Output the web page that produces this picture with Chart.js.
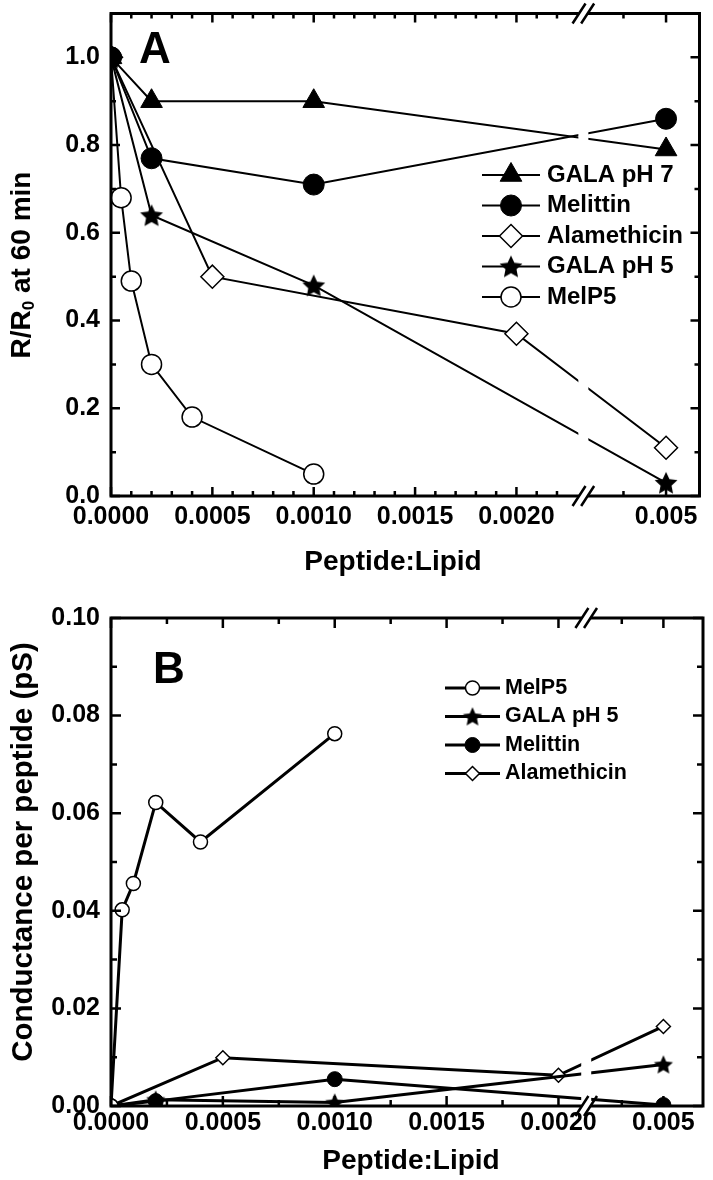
<!DOCTYPE html>
<html>
<head>
<meta charset="utf-8">
<script src="https://cdn.jsdelivr.net/npm/chart.js@4.4.1/dist/chart.umd.min.js"></script>
<style>
  html, body { margin: 0; padding: 0; background: #fff; }
  #wrap { position: relative; width: 713px; height: 1180px; }
  canvas { position: absolute; left: 0; }
</style>
</head>
<body>
<div id="wrap">
  <canvas id="chartA" width="713" height="590" style="top:0"></canvas>
  <canvas id="chartB" width="713" height="590" style="top:590px"></canvas>
</div>
<script>
// Panel A : R/R0 at 60 min
const seriesA = ['GALA pH 7', 'Melittin', 'Alamethicin', 'GALA pH 5', 'MelP5'];
const xGala7A = [0, 0.0002, 0.001, 0.005];
const yGala7A = [1.0, 0.90, 0.90, 0.79];
const xMelA = [0, 0.0002, 0.001, 0.005];
const yMelA = [1.0, 0.77, 0.71, 0.86];
const xAlaA = [0, 0.0005, 0.002, 0.005];
const yAlaA = [1.0, 0.50, 0.37, 0.11];
const xGala5A = [0, 0.0002, 0.001, 0.005];
const yGala5A = [1.0, 0.64, 0.48, 0.03];
const xMelP5A = [0, 0.00005, 0.0001, 0.0002, 0.0004, 0.001];
const yMelP5A = [1.0, 0.68, 0.49, 0.30, 0.18, 0.05];

// Panel B : conductance per peptide (pS)
const seriesB = ['MelP5', 'GALA pH 5', 'Melittin', 'Alamethicin'];
const xMelP5B = [0, 0.00005, 0.0001, 0.0002, 0.0004, 0.001];
const yMelP5B = [0, 0.0402, 0.0456, 0.0622, 0.0541, 0.0763];
const xGala5B = [0, 0.0002, 0.001, 0.005];
const yGala5B = [0, 0.0013, 0.0007, 0.0085];
const xMelB = [0, 0.0002, 0.001, 0.005];
const yMelB = [0, 0.0010, 0.0055, 0.0002];
const xAlaB = [0, 0.0005, 0.002, 0.005];
const yAlaB = [0, 0.0099, 0.0063, 0.0163];

// Tick values and labels
const xTicks = [0, 0.0005, 0.001, 0.0015, 0.002, 0.005];
const xLabels = ['0.0000', '0.0005', '0.0010', '0.0015', '0.0020', '0.005'];
const yTicksA = [0, 0.2, 0.4, 0.6, 0.8, 1.0];
const yLabelsA = ['0.0', '0.2', '0.4', '0.6', '0.8', '1.0'];
const yTicksB = [0, 0.02, 0.04, 0.06, 0.08, 0.10];
const yLabelsB = ['0.00', '0.02', '0.04', '0.06', '0.08', '0.10'];

const FONT = "'Liberation Sans', Arial, Helvetica, sans-serif";

// broken x axis: values past the break are squeezed next to it
function makeAxis(u5, k) {
    return x => (x <= 0.0023 ? x : u5 + (x - 0.005) * k);
}

function makeStar(r) {
    const s = Math.ceil(2 * r + 4);
    const c = document.createElement('canvas');
    c.width = c.height = s;
    const g = c.getContext('2d');
    g.beginPath();
    for (let i = 0; i < 10; i++) {
        const rr = i % 2 ? r * 0.48 : r;
        const ang = -Math.PI / 2 + i * Math.PI / 5;
        g.lineTo(s / 2 + rr * Math.cos(ang), s / 2 + rr * Math.sin(ang) + r * 0.08);
    }
    g.closePath();
    g.fillStyle = '#000';
    g.fill();
    return c;
}

function ticksBetween(from, to, step) {
    const out = [];
    for (let i = 0; from + i * step <= to + 1e-12; i++) out.push(+(from + i * step).toFixed(6));
    return out;
}

function drawMarker(ctx, m, x, y) {
    ctx.save();
    ctx.fillStyle = m.fill;
    ctx.strokeStyle = '#000';
    ctx.lineWidth = m.bw;
    Chart.helpers.drawPoint(ctx, {pointStyle: m.style, rotation: 0, radius: m.r, borderWidth: m.bw}, x, y);
    ctx.restore();
}

function makePanel(id, p) {
    const axis = p.axis;
    const datasets = p.series.map((name, i) => {
        const m = p.marks[name];
        return {
            label: name,
            data: p.xs[i].map((x, j) => ({x: axis(x), y: p.ys[i][j]})),
            borderColor: '#000',
            borderWidth: p.lineWidth,
            tension: 0,
            clip: 0,
            pointStyle: m.style,
            pointRadius: m.r,
            pointBackgroundColor: m.fill,
            pointBorderColor: '#000',
            pointBorderWidth: m.bw
        };
    });

    const decor = {
        id: 'decor' + id,
        afterDatasetsDraw(chart) {
            const {ctx, chartArea: a, scales: {x, y}} = chart;
            const bx = x.getPixelForValue(p.breakAt);
            ctx.save();
            // gap in the data lines at the break
            ctx.fillStyle = '#fff';
            ctx.fillRect(bx - 5, a.top + 2, 10, a.bottom - a.top - 4);

            // frame
            ctx.strokeStyle = '#000';
            ctx.lineWidth = 3;
            ctx.strokeRect(a.left, a.top, a.right - a.left, a.bottom - a.top);

            // inward ticks on all four sides
            ctx.lineWidth = 2.5;
            ctx.beginPath();
            p.xMinor.forEach(v => {
                const px = x.getPixelForValue(axis(v));
                const len = p.xTicks.includes(v) ? p.major : p.minor;
                ctx.moveTo(px, a.bottom); ctx.lineTo(px, a.bottom - len);
                ctx.moveTo(px, a.top); ctx.lineTo(px, a.top + len);
            });
            p.yMinor.forEach(v => {
                const py = y.getPixelForValue(v);
                const len = p.yTicks.some(t => Math.abs(t - v) < 1e-9) ? p.major : p.minor;
                ctx.moveTo(a.left, py); ctx.lineTo(a.left + len, py);
                ctx.moveTo(a.right, py); ctx.lineTo(a.right - len, py);
            });
            ctx.stroke();

            // break marks //
            [a.top, a.bottom].forEach(yy => {
                ctx.fillStyle = '#fff';
                ctx.fillRect(bx - 4.5, yy - 2.5, 9, 5);
                ctx.beginPath();
                [-4.3, 4.3].forEach(o => {
                    ctx.moveTo(bx + o - 6.5, yy + 10);
                    ctx.lineTo(bx + o + 6.5, yy - 10);
                });
                ctx.lineWidth = 2.5;
                ctx.stroke();
            });

            // legend
            ctx.textBaseline = 'middle';
            ctx.textAlign = 'left';
            ctx.font = 'bold ' + p.legend.size + 'px ' + FONT;
            p.series.forEach((name, i) => {
                const ly = p.legend.y + i * p.legend.gap;
                ctx.beginPath();
                ctx.lineWidth = p.lineWidth;
                ctx.moveTo(p.legend.x1, ly);
                ctx.lineTo(p.legend.x2, ly);
                ctx.stroke();
                drawMarker(ctx, p.marks[name], (p.legend.x1 + p.legend.x2) / 2, ly);
                ctx.fillStyle = '#000';
                ctx.fillText(name, p.legend.tx, ly);
            });

            // panel letter
            ctx.font = 'bold 44px ' + FONT;
            ctx.textBaseline = 'alphabetic';
            ctx.fillText(p.letter.text, p.letter.x, p.letter.y);

            // axis titles
            ctx.textAlign = 'center';
            ctx.textBaseline = 'middle';
            ctx.font = 'bold 28px ' + FONT;
            ctx.fillText('Peptide:Lipid', p.xTitle.x, p.xTitle.y);

            ctx.translate(p.yTitle.x, p.yTitle.y);
            ctx.rotate(-Math.PI / 2);
            ctx.textAlign = 'left';
            const parts = p.yTitle.parts;
            const fonts = parts.map(t => 'bold ' + t[1] + 'px ' + FONT);
            let total = 0;
            const widths = parts.map((t, i) => { ctx.font = fonts[i]; const w = ctx.measureText(t[0]).width; total += w; return w; });
            let cx = -total / 2;
            parts.forEach((t, i) => {
                ctx.font = fonts[i];
                ctx.fillText(t[0], cx, t[2]);
                cx += widths[i];
            });
            ctx.restore();
        }
    };

    return new Chart(document.getElementById(id), {
        type: 'line',
        data: {datasets: datasets},
        options: {
            responsive: false,
            animation: false,
            events: [],
            layout: {padding: {left: 0, right: 4, top: p.top, bottom: 0}},
            plugins: {legend: {display: false}, tooltip: {enabled: false}},
            scales: {
                x: {
                    type: 'linear',
                    min: 0,
                    max: p.xMax,
                    grid: {display: false, drawTicks: false},
                    border: {display: false},
                    afterFit: s => { s.height = p.xHeight; s.paddingLeft = 0; s.paddingRight = 0; },
                    afterBuildTicks: s => { s.ticks = xTicks.map(v => ({value: axis(v)})); },
                    ticks: {
                        autoSkip: false, maxRotation: 0, padding: p.xPad, color: '#000',
                        font: {family: FONT, size: 25, weight: 'bold'},
                        callback: (v, i) => xLabels[i]
                    }
                },
                y: {
                    type: 'linear',
                    min: 0,
                    max: p.yMax,
                    grid: {display: false, drawTicks: false},
                    border: {display: false},
                    afterFit: s => { s.width = 111; s.paddingTop = 0; s.paddingBottom = 0; },
                    afterBuildTicks: s => { s.ticks = p.yTicks.map(v => ({value: v})); },
                    ticks: {
                        padding: 11, color: '#000',
                        font: {family: FONT, size: 25, weight: 'bold'},
                        callback: (v, i) => p.yLabels[i]
                    }
                }
            }
        },
        plugins: [decor]
    });
}

const starA = makeStar(12);
const starB = makeStar(10);

makePanel('chartA', {
    series: seriesA,
    xs: [xGala7A, xMelA, xAlaA, xGala5A, xMelP5A],
    ys: [yGala7A, yMelA, yAlaA, yGala5A, yMelP5A],
    marks: {
        'GALA pH 7': {style: 'triangle', r: 12.5, fill: '#000', bw: 1},
        'Melittin': {style: 'circle', r: 10.5, fill: '#000', bw: 1},
        'Alamethicin': {style: 'rectRot', r: 11.5, fill: '#fff', bw: 1.5},
        'GALA pH 5': {style: starA, r: 12, fill: '#000', bw: 0},
        'MelP5': {style: 'circle', r: 10, fill: '#fff', bw: 1.5}
    },
    axis: makeAxis(0.002738, 0.21),
    breakAt: 0.00233,
    xMax: 0.002903,
    yMax: 1.1,
    top: 12,
    xHeight: 94,
    xPad: 6,
    lineWidth: 2,
    xTicks: xTicks,
    xMinor: ticksBetween(0, 0.0022, 0.0001).concat([0.004, 0.005]),
    yTicks: yTicksA,
    yLabels: yLabelsA,
    yMinor: ticksBetween(0, 1.1, 0.1),
    major: 9, minor: 5,
    legend: {x1: 482, x2: 540, tx: 547, y: 175, gap: 30.5, size: 24},
    letter: {text: 'A', x: 139, y: 63},
    xTitle: {x: 393, y: 562},
    yTitle: {x: 22, y: 265, parts: [['R/R', 28, 0], ['0', 17, 7], [' at 60 min', 28, 0]]}
});

makePanel('chartB', {
    series: seriesB,
    xs: [xMelP5B, xGala5B, xMelB, xAlaB],
    ys: [yMelP5B, yGala5B, yMelB, yAlaB],
    marks: {
        'MelP5': {style: 'circle', r: 7, fill: '#fff', bw: 1.5},
        'GALA pH 5': {style: starB, r: 10, fill: '#000', bw: 0},
        'Melittin': {style: 'circle', r: 7.5, fill: '#000', bw: 1},
        'Alamethicin': {style: 'rectRot', r: 7, fill: '#fff', bw: 1.5}
    },
    axis: makeAxis(0.002469, 0.186),
    breakAt: 0.002124,
    xMax: 0.002646,
    yMax: 0.10,
    top: 28,
    xHeight: 74,
    xPad: 2,
    lineWidth: 3,
    xTicks: xTicks,
    xMinor: ticksBetween(0, 0.002, 0.00025).concat([0.004, 0.005]),
    yTicks: yTicksB,
    yLabels: yLabelsB,
    yMinor: ticksBetween(0, 0.10, 0.01),
    major: 10, minor: 6,
    legend: {x1: 445, x2: 500, tx: 505, y: 98, gap: 28.5, size: 21.5},
    letter: {text: 'B', x: 153, y: 93},
    xTitle: {x: 411, y: 571},
    yTitle: {x: 24, y: 262, parts: [['Conductance per peptide (pS)', 29.5, 0]]}
});
</script>
</body>
</html>
